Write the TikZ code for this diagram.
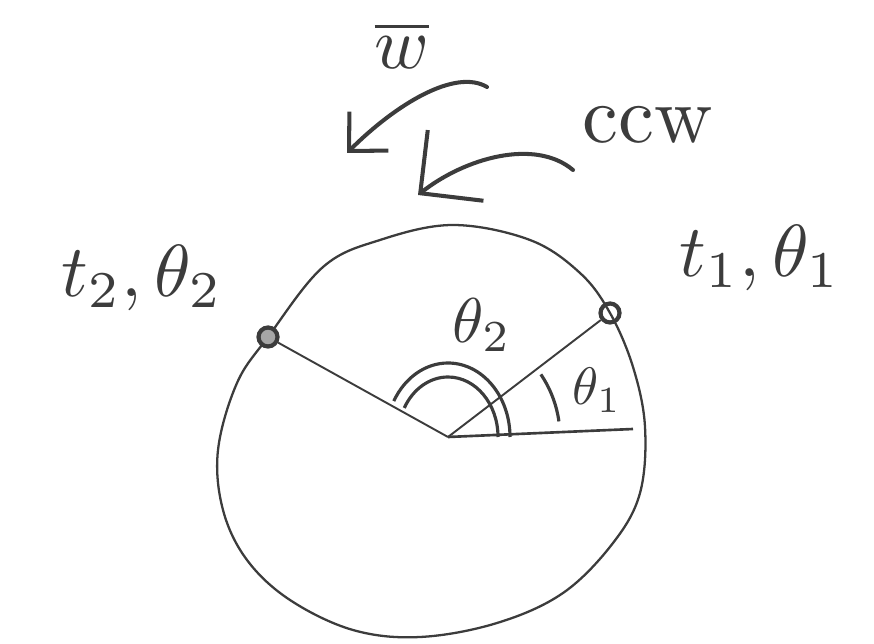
\documentclass[tikz,border=0pt]{standalone}
\usetikzlibrary{arrows.meta, calc}
\definecolor{pencil}{RGB}{60, 60, 60}
\tikzstyle{rim} = [draw=pencil, line width=1.3pt]
\tikzstyle{spoke} = [draw=pencil, line width=1.1pt]
\tikzstyle{dot} = [circle, draw=pencil, line width=2.4pt, minimum size=3.8mm, inner sep=0pt]
\tikzstyle{anglearc} = [draw=pencil, line width=1.8pt]
\tikzstyle{hand} = [text=pencil, inner sep=0pt]
\tikzstyle{swirl} = [draw=pencil, line width=2.3pt, line cap=round]

\begin{document}
\begin{tikzpicture}[x=0.02cm, y=-0.02cm]
\useasboundingbox (0,0) rectangle (874,644);

% Rim (hand drawn, not quite round)
\draw[rim] plot[smooth cycle, tension=0.6] coordinates {(453,225) (380,240) (323,267) (268,337) (237,383) (218,450) (223,510) (247,560) (290,600) (353,630) (420,637) (497,623) (563,593) (613,543) (640,493) (645,427) (633,367) (610,313) (580,273) (530,240)};

% Centre and points
\coordinate (o) at (448,437);
\coordinate (xend) at (633,429);
\node[dot] (p1) at (610,313) {};
\node[dot, fill=pencil!45] (p2) at (268,337) {};

% Spokes
\draw[spoke] (o) -- (p1);
\draw[spoke] (o) -- (p2);
\draw[spoke, line width=1.5pt] (o) -- (xend);

% Angle arcs
\draw[anglearc] ($(o)+(62,0)$) arc[start angle=0, end angle=-151, x radius=62, y radius=74];
\draw[anglearc] ($(o)+(50,0)$) arc[start angle=0, end angle=-151, x radius=50, y radius=60];
\draw[anglearc] ($(o)+(-8:112)$) arc[start angle=-8, end angle=-34, radius=112];

% Labels
\node[hand, scale=4.2] (lw) at (402,45) {$\overline{w}$};
\node[hand, scale=4.6] (lccw) at (648,125) {ccw};
\node[hand, scale=4.2] (lt2) at (142,278) {$t_2,\theta_2$};
\node[hand, scale=4.2] (lt1) at (760,258) {$t_1,\theta_1$};
\node[hand, scale=3.6] (lth2) at (482,325) {$\theta_2$};
\node[hand, scale=3] (lth1) at (597,390) {$\theta_1$};

% Rotation arrows
\coordinate (w1) at (487,87);
\coordinate (w2) at (347,153);
\coordinate (c1) at (573,170);
\coordinate (c2) at (418,195);
\draw[swirl, -{Straight Barb[length=5.6mm, width=11mm]}] (w1) .. controls (455,68) and (395,105) .. (w2);
\draw[swirl, -{Straight Barb[length=9mm, width=18mm]}] (c1) .. controls (535,138) and (465,158) .. (c2);

\end{tikzpicture}
\end{document}
